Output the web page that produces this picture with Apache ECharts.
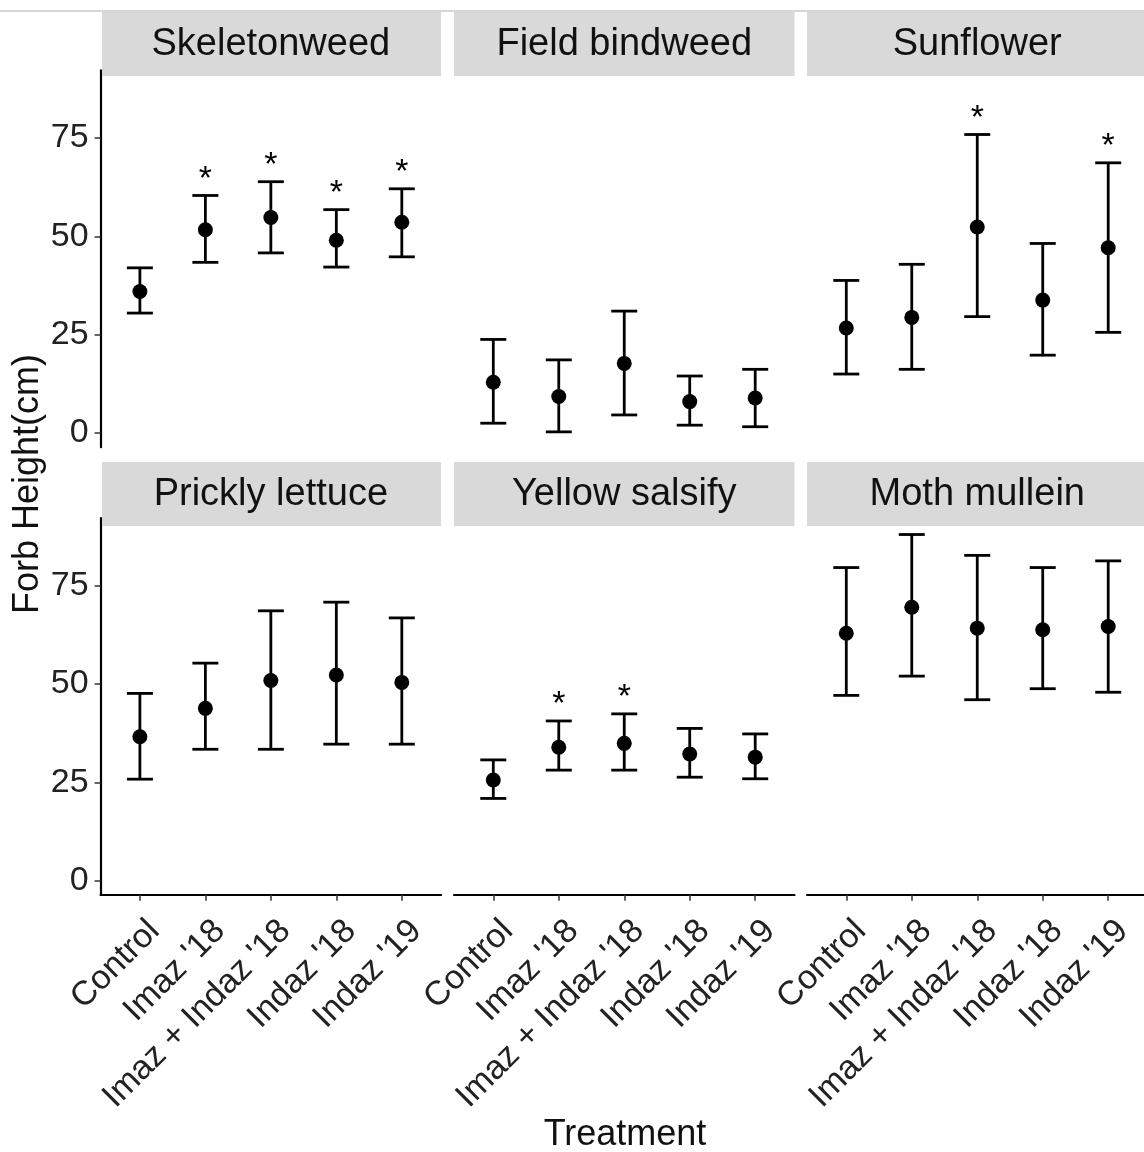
<!DOCTYPE html>
<html>
<head>
<meta charset="utf-8">
<script src="https://cdn.jsdelivr.net/npm/echarts@6/dist/echarts.min.js"></script>
<style>
  html, body { margin: 0; padding: 0; background: #fff; }
  #chart { width: 1144px; height: 1152px; }
</style>
</head>
<body>
<div id="chart"></div>
<script>
// categories
const treatments = ['Control', "Imaz '18", "Imaz + Indaz '18", "Indaz '18", "Indaz '19"]
const species = ['Skeletonweed', 'Field bindweed', 'Sunflower', 'Prickly lettuce', 'Yellow salsify', 'Moth mullein']
const yTicks = [0, 25, 50, 75]

// mean forb height (cm) and error bar ends, one array per species
const skeletonweedMean = [36.0, 51.7, 54.8, 49.0, 53.6]
const skeletonweedLow = [30.5, 43.4, 45.8, 42.2, 44.8]
const skeletonweedHigh = [42.0, 60.4, 63.9, 56.8, 62.1]
const skeletonweedSig = [0, 1, 1, 1, 1]

const bindweedMean = [12.9, 9.3, 17.7, 8.0, 8.9]
const bindweedLow = [2.5, 0.3, 4.6, 2.0, 1.6]
const bindweedHigh = [23.8, 18.6, 31.0, 14.5, 16.2]
const bindweedSig = [0, 0, 0, 0, 0]

const sunflowerMean = [26.7, 29.4, 52.4, 33.8, 47.1]
const sunflowerLow = [15.0, 16.2, 29.6, 19.8, 25.6]
const sunflowerHigh = [38.8, 42.9, 75.9, 48.2, 68.7]
const sunflowerSig = [0, 0, 1, 0, 1]

const lettuceMean = [36.6, 43.8, 50.9, 52.3, 50.4]
const lettuceLow = [25.8, 33.4, 33.4, 34.7, 34.7]
const lettuceHigh = [47.6, 55.3, 68.6, 70.8, 66.8]
const lettuceSig = [0, 0, 0, 0, 0]

const salsifyMean = [25.6, 33.9, 34.9, 32.2, 31.4]
const salsifyLow = [20.9, 28.1, 28.1, 26.3, 25.9]
const salsifyHigh = [30.7, 40.6, 42.4, 38.7, 37.3]
const salsifySig = [0, 1, 1, 0, 0]

const mulleinMean = [62.9, 69.5, 64.2, 63.8, 64.6]
const mulleinLow = [47.1, 52.0, 46.0, 48.8, 47.9]
const mulleinHigh = [79.6, 88.0, 82.7, 79.6, 81.3]
const mulleinSig = [0, 0, 0, 0, 0]

const panels = [
  { mean: skeletonweedMean, low: skeletonweedLow, high: skeletonweedHigh, sig: skeletonweedSig },
  { mean: bindweedMean, low: bindweedLow, high: bindweedHigh, sig: bindweedSig },
  { mean: sunflowerMean, low: sunflowerLow, high: sunflowerHigh, sig: sunflowerSig },
  { mean: lettuceMean, low: lettuceLow, high: lettuceHigh, sig: lettuceSig },
  { mean: salsifyMean, low: salsifyLow, high: salsifyHigh, sig: salsifySig },
  { mean: mulleinMean, low: mulleinLow, high: mulleinHigh, sig: mulleinSig }
]

// layout (ggplot facet_wrap look)
const FONT = "'Liberation Sans', Arial, sans-serif"
const colLeft = [100.6, 454, 807]
const colWidth = 340.5
const rowTop = [70.4, 518]
const rowHeight = 376.8
const stripTop = [12, 462]
const stripH = 64
const labelShift = 0.22

const chart = echarts.init(document.getElementById('chart'), null, { renderer: 'canvas' })

const grids = [], xAxes = [], yAxes = [], series = [], graphics = []

panels.forEach((p, i) => {
  const col = i % 3
  const row = Math.floor(i / 3)
  const bottom = row === 1
  const first = col === 0

  grids.push({ left: colLeft[col], top: rowTop[row], width: colWidth, height: rowHeight, containLabel: false, outerBoundsMode: 'none' })

  xAxes.push({
    type: 'value', gridIndex: i, min: -0.6, max: 4.6,
    splitLine: { show: false },
    axisLine: { show: bottom, onZero: false, lineStyle: { color: '#000', width: 2.2 } },
    axisTick: { show: bottom, customValues: [0, 1, 2, 3, 4], length: 6, lineStyle: { color: '#333', width: 1.5 } },
    axisLabel: {
      show: bottom, rotate: 45, margin: 31,
      customValues: [0, 1, 2, 3, 4].map(v => v + labelShift),
      formatter: v => treatments[Math.round(v - labelShift)],
      color: '#222', fontSize: 34, fontFamily: FONT
    }
  })

  yAxes.push({
    type: 'value', gridIndex: i, min: -3.6, max: 92.2,
    splitLine: { show: false },
    axisLine: { show: first, onZero: false, lineStyle: { color: '#000', width: 2.2 } },
    axisTick: { show: first, customValues: yTicks, length: 6, lineStyle: { color: '#333', width: 1.5 } },
    axisLabel: { show: first, customValues: yTicks, margin: 12, color: '#222', fontSize: 34, fontFamily: FONT }
  })

  // error bars
  series.push({
    type: 'custom', xAxisIndex: i, yAxisIndex: i,
    encode: { x: 0, y: [1, 2] },
    data: p.low.map((l, j) => [j, l, p.high[j]]),
    renderItem: (params, api) => {
      const x = api.value(0)
      const lo = api.coord([x, api.value(1)])
      const hi = api.coord([x, api.value(2)])
      const half = 13
      const st = { stroke: '#000', lineWidth: 2.8 }
      return {
        type: 'group',
        children: [
          { type: 'line', shape: { x1: lo[0], y1: lo[1], x2: hi[0], y2: hi[1] }, style: st },
          { type: 'line', shape: { x1: lo[0] - half, y1: lo[1], x2: lo[0] + half, y2: lo[1] }, style: st },
          { type: 'line', shape: { x1: hi[0] - half, y1: hi[1], x2: hi[0] + half, y2: hi[1] }, style: st }
        ]
      }
    },
    z: 2
  })

  // means
  series.push({
    type: 'scatter', xAxisIndex: i, yAxisIndex: i,
    data: p.mean.map((m, j) => [j, m]),
    symbol: 'circle', symbolSize: 15,
    itemStyle: { color: '#000', opacity: 1 },
    z: 3
  })

  // significance stars
  series.push({
    type: 'custom', xAxisIndex: i, yAxisIndex: i,
    encode: { x: 0, y: 1 },
    data: p.sig.map((s, j) => [j, p.high[j], s]).filter(d => d[2]),
    renderItem: (params, api) => {
      const pt = api.coord([api.value(0), api.value(1)])
      return {
        type: 'text', x: pt[0], y: pt[1] - 16,
        style: { text: '*', fill: '#000', font: '34px ' + FONT, align: 'center', verticalAlign: 'middle', textAlign: 'center', textVerticalAlign: 'middle' }
      }
    },
    z: 3
  })

  // facet strip
  const sx = col === 0 ? 102 : colLeft[col]
  graphics.push({
    type: 'rect', z: 10,
    shape: { x: sx, y: stripTop[row], width: colLeft[col] + colWidth - sx, height: stripH },
    style: { fill: '#d9d9d9' }
  })
  graphics.push({
    type: 'text', z: 11,
    x: colLeft[col] + colWidth / 2, y: stripTop[row] + stripH / 2 + 1,
    style: { text: species[i], fill: '#111', font: '38px ' + FONT, align: 'center', verticalAlign: 'middle' }
  })
})

graphics.push({
  type: 'line', z: 9,
  shape: { x1: 0, y1: 11, x2: 1144, y2: 11 },
  style: { stroke: '#c8c8c8', lineWidth: 1.5 }
})
graphics.push({
  type: 'text', x: 28, y: 484, rotation: Math.PI / 2,
  style: { text: 'Forb Height(cm)', fill: '#111', font: '36px ' + FONT, align: 'center', verticalAlign: 'middle' }
})
graphics.push({
  type: 'text', x: 625, y: 1135,
  style: { text: 'Treatment', fill: '#111', font: '36px ' + FONT, align: 'center', verticalAlign: 'middle' }
})

chart.setOption({
  backgroundColor: '#fff',
  animation: false,
  grid: grids,
  xAxis: xAxes,
  yAxis: yAxes,
  series: series,
  graphic: graphics
})
</script>
</body>
</html>
